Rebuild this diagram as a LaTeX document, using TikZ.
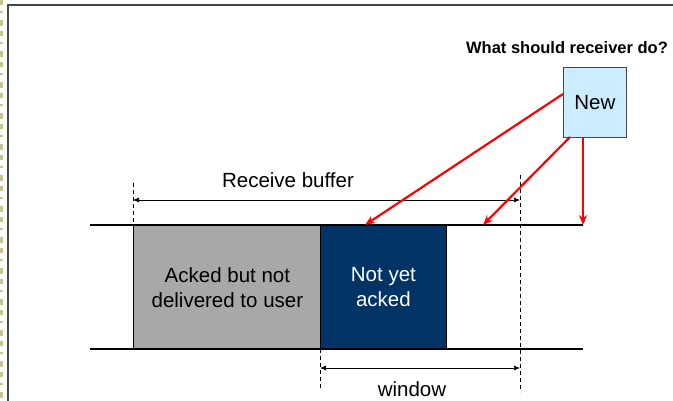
\documentclass[tikz,border=0pt]{standalone}
\usepackage{fontspec}
\setmainfont{Liberation Sans}
\usetikzlibrary{arrows.meta}
\definecolor{navy}{RGB}{0,51,102}
\definecolor{boxgray}{RGB}{168,168,168}
\definecolor{newblue}{RGB}{204,236,255}
\definecolor{stripe}{RGB}{200,196,144}
\definecolor{framegray}{RGB}{70,70,70}
\begin{document}
\begin{tikzpicture}[x=1pt,y=-1pt,
  buf/.style={draw=black,line width=0.8pt},
  edge/.style={line width=1.8pt},
  guide/.style={dashed,line width=0.6pt,dash pattern=on 4pt off 3pt},
  dim/.style={line width=0.7pt,{Latex[length=6pt,width=5pt]}-{Latex[length=6pt,width=5pt]}},
  redarrow/.style={red,line width=2.2pt,-{Stealth[length=10pt,width=8pt]}},
  lbl/.style={font=\fontsize{20.5}{25}\selectfont,align=center,inner sep=0pt}]
\useasboundingbox (0,0) rectangle (673,401);
\fill[white] (0,0) rectangle (673,401);
% frame
\draw[stripe,line width=3.5pt,dash pattern=on 5pt off 6pt on 2pt off 7pt on 6pt off 5pt] (1.7,0) -- (1.7,401);
\draw[framegray,line width=2pt] (8,401) -- (8,5) -- (673,5);
% buffer boxes
\node[buf,fill=boxgray,minimum width=188pt,minimum height=124pt,anchor=north west,inner sep=0pt] (acked) at (133,225) {};
\node[buf,fill=navy,minimum width=126pt,minimum height=124pt,anchor=north west,inner sep=0pt] (notyet) at (320,225) {};
\node[lbl] at (acked.center) {Acked but not\\delivered to user};
\node[lbl,text=white] at (notyet.center) {Not yet\\acked};
% rails
\coordinate (tl) at (90,225); \coordinate (tr) at (583,225);
\coordinate (bl) at (90,349); \coordinate (br) at (583,349);
\draw[edge] (tl) -- (tr);
\draw[edge] (bl) -- (br);
% guides
\coordinate (g1a) at (133,183); \coordinate (g1b) at (133,225);
\coordinate (g2a) at (320,349); \coordinate (g2b) at (320,388);
\coordinate (g3a) at (520,175); \coordinate (g3b) at (520,392);
\draw[guide] (g1a) -- (g1b);
\draw[guide] (g2a) -- (g2b);
\draw[guide] (g3a) -- (g3b);
% dimensions
\coordinate (rb1) at (133,200); \coordinate (rb2) at (520,200);
\draw[dim] (rb1) -- (rb2);
\node[font=\fontsize{20.5}{24}\selectfont,inner sep=0pt] (rblabel) at (288,180) {Receive buffer};
\coordinate (w1) at (320,368); \coordinate (w2) at (520,368);
\draw[dim] (w1) -- (w2);
\node[font=\fontsize{20.5}{24}\selectfont,inner sep=0pt] (wlabel) at (412,389) {window};
% new box
\node[draw=framegray,line width=0.7pt,fill=newblue,minimum width=63pt,minimum height=70pt,anchor=north west,inner sep=0pt,font=\fontsize{20.5}{24}\selectfont] (new) at (563,67) {New};
\node[font=\bfseries\fontsize{16.5}{19}\selectfont,inner sep=0pt] (q) at (567,48) {What should receiver do?};
% red arrows
\coordinate (s1) at (563,94); \coordinate (t1) at (365,225);
\coordinate (s2) at (570,137); \coordinate (t2) at (483,225);
\coordinate (s3) at (583,137); \coordinate (t3) at (583,225);
\draw[redarrow] (s1) -- (t1);
\draw[redarrow] (s2) -- (t2);
\draw[redarrow] (s3) -- (t3);
\end{tikzpicture}
\end{document}
